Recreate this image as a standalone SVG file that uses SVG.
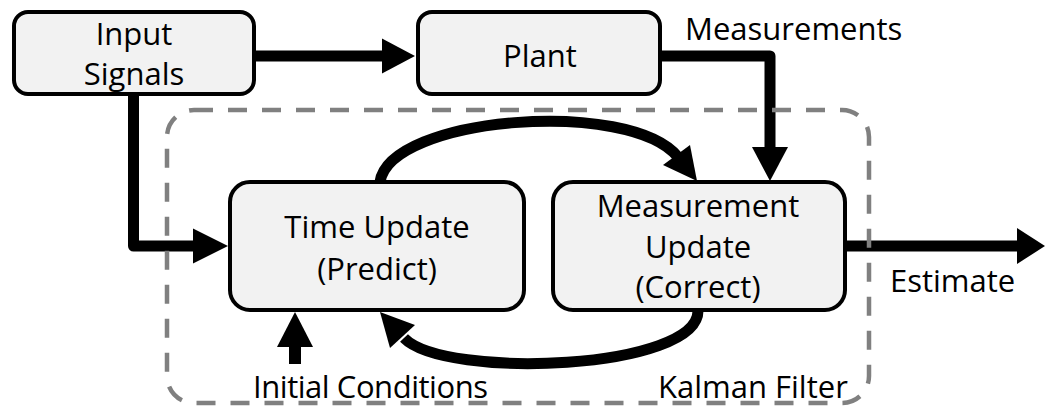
<svg xmlns="http://www.w3.org/2000/svg" width="1045" height="408" viewBox="0 0 1045 408">
  <style>
    .box { fill: #f2f2f2; stroke: #000; stroke-width: 4; }
    .lbl { font-family: "Open Sans", "Liberation Sans", sans-serif; font-size: 31px; fill: #000; }
    .mid { text-anchor: middle; }
    .wire { fill: none; stroke: #000; stroke-width: 11; stroke-linejoin: round; }
    .head { fill: #000; stroke: none; }
    .frame { fill: none; stroke: #808080; stroke-width: 4.5; stroke-dasharray: 19 15; }
  </style>
  <rect width="1045" height="408" fill="#fff"/>

  <g id="connectors">
    <!-- Input Signals -> Plant -->
    <path class="wire" d="M256,56 H385"/>
    <polygon class="head" points="415,56 382,38.5 382,73.5"/>
    <!-- Plant -> Measurement Update -->
    <path class="wire" d="M662,56 H770 V150"/>
    <polygon class="head" points="770,181 752,147 788,147"/>
    <!-- Input Signals -> Time Update -->
    <path class="wire" d="M133.5,96 V246 H196"/>
    <polygon class="head" points="228,246 193,228.5 193,263.5"/>
    <!-- Time Update -> Measurement Update (top arc) -->
    <path class="wire" d="M380,182 C390,116 630,98 678,157"/>
    <polygon class="head" points="697,181 690,145 663,165"/>
    <!-- Measurement Update -> Time Update (bottom arc) -->
    <path class="wire" d="M698,310 C700,370 445,380 404,338"/>
    <polygon class="head" points="380,312 390,348 415,325"/>
    <!-- Initial Conditions -> Time Update -->
    <path class="wire" d="M295,364 V344" style="stroke-width:12;stroke-linejoin:miter"/>
    <polygon class="head" points="295,312 277,347 313,347"/>
    <!-- Measurement Update -> Estimate -->
    <path class="wire" d="M847,246 H1019"/>
    <polygon class="head" points="1045,246 1017,228 1017,264"/>
  </g>

  <g id="input-signals">
    <rect class="box" x="14" y="12" width="240" height="82" rx="14"/>
    <text class="lbl mid" x="134" y="45">Input</text>
    <text class="lbl mid" x="134" y="85">Signals</text>
  </g>

  <g id="plant">
    <rect class="box" x="418" y="12" width="242" height="82" rx="14"/>
    <text class="lbl mid" x="540" y="67">Plant</text>
  </g>

  <g id="time-update">
    <rect class="box" x="230" y="182" width="294" height="128" rx="20"/>
    <text class="lbl mid" x="377" y="238">Time Update</text>
    <text class="lbl mid" x="377" y="280">(Predict)</text>
  </g>

  <g id="measurement-update">
    <rect class="box" x="553" y="182" width="292" height="128" rx="20"/>
    <text class="lbl mid" x="698" y="217">Measurement</text>
    <text class="lbl mid" x="698" y="258">Update</text>
    <text class="lbl mid" x="698" y="298">(Correct)</text>
  </g>

  <g id="kalman-filter">
    <rect class="frame" x="167" y="110" width="702" height="293" rx="27"/>
    <text class="lbl" x="658" y="398">Kalman Filter</text>
  </g>

  <g id="labels">
    <text class="lbl" x="685" y="40">Measurements</text>
    <text class="lbl" x="890" y="292">Estimate</text>
    <text class="lbl" x="253" y="398" textLength="235">Initial Conditions</text>
  </g>
</svg>
